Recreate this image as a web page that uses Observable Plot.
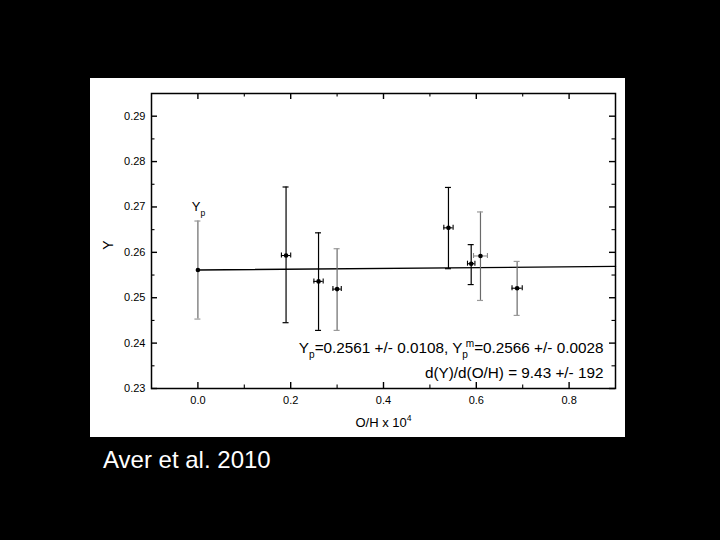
<!DOCTYPE html>
<html>
<head>
<meta charset="utf-8">
<script src="https://cdn.jsdelivr.net/npm/d3@7"></script>
<script src="https://cdn.jsdelivr.net/npm/@observablehq/plot@0.6"></script>
<style>
  html, body { margin: 0; padding: 0; background: #000; }
  #stage { position: relative; width: 720px; height: 540px; background: #000; overflow: hidden; }
  #panel { position: absolute; left: 90px; top: 78px; width: 535px; height: 359px; background: #fff; }
  #credit { position: absolute; left: 103px; top: 446px; color: #fff; font: 24px "Liberation Sans", Arial, sans-serif; }
</style>
</head>
<body>
<div id="stage">
  <div id="panel"></div>
  <div id="credit">Aver et al. 2010</div>
</div>
<script>
// ---- data ----
const ohX   = [0, 0.19, 0.26, 0.30, 0.54, 0.589, 0.609, 0.688];
const yVal  = [0.2561, 0.2593, 0.2536, 0.2519, 0.2654, 0.2575, 0.2592, 0.2521];
const yLow  = [0.2453, 0.2445, 0.2428, 0.2428, 0.2564, 0.2529, 0.2494, 0.2461];
const yHigh = [0.2669, 0.2744, 0.2643, 0.2608, 0.2743, 0.2617, 0.2689, 0.2580];
const xErr  = [0, 0.010, 0.010, 0.009, 0.010, 0.008, 0.015, 0.011];
const yTone = ["grey", "black", "black", "grey", "black", "black", "grey", "grey"];
const xTone = ["black", "black", "black", "black", "black", "black", "grey", "black"];

const fitX = [0, 0.9];
const fitY = [0.2561, 0.2569];

const yMajor = [0.23, 0.24, 0.25, 0.26, 0.27, 0.28, 0.29];
const yMinor = [0.235, 0.245, 0.255, 0.265, 0.275, 0.285];
const xMajor = [0.0, 0.2, 0.4, 0.6, 0.8];
const xMinor = [0.1, 0.3, 0.5, 0.7];

const xTitle = "O/H x 10^{4}";
const yTitle = "Y";
const ypLabel = "Y_{p}";
const fitText1 = "Y_{p}=0.2561 +/- 0.0108, Y_{p}^{m}=0.2566 +/- 0.0028";
const fitText2 = "d(Y)/d(O/H) = 9.43 +/- 192";

// ---- build table ----
const points = ohX.map((x, i) => ({
  x, y: yVal[i], lo: yLow[i], hi: yHigh[i], xe: xErr[i],
  yc: yTone[i] === "grey" ? "#6a6a6a" : "#000",
  capc: yTone[i] === "grey" ? "#9a9a9a" : "#000",
  xc: xTone[i] === "grey" ? "#8a8a8a" : "#000"
}));
const xbars = points.filter(d => d.xe > 0);
const fit = fitX.map((x, i) => ({x, y: fitY[i]}));

const W = 535, H = 359;
const M = {top: 15, right: 10, bottom: 49, left: 61};
const innerW = W - M.left - M.right, innerH = H - M.top - M.bottom;
const capW = 3 / innerW * 1.0;        // ~3px half-width in x units (domain span 1)
const capH = 2.5 / innerH * 0.065;    // ~2.5px half-height in y units
const majorLen = 6, minorLen = 3.5;
const font = "Liberation Sans, Arial, sans-serif";

const chart = Plot.plot({
  width: W, height: H,
  marginTop: M.top, marginRight: M.right, marginBottom: M.bottom, marginLeft: M.left,
  style: {background: "transparent", fontFamily: font, color: "#000"},
  x: {domain: [-0.1, 0.9]},
  y: {domain: [0.23, 0.295]},
  marks: [
    // inward ticks on all four sides
    Plot.tickX(xMajor, {x: d => d, insetTop: innerH - majorLen, stroke: "#000", strokeWidth: 1.4}),
    Plot.tickX(xMinor, {x: d => d, insetTop: innerH - minorLen, stroke: "#000", strokeWidth: 1.1}),
    Plot.tickX(xMajor, {x: d => d, insetBottom: innerH - majorLen, stroke: "#000", strokeWidth: 1.4}),
    Plot.tickX(xMinor, {x: d => d, insetBottom: innerH - minorLen, stroke: "#000", strokeWidth: 1.1}),
    Plot.tickY(yMajor, {y: d => d, insetRight: innerW - majorLen, stroke: "#000", strokeWidth: 1.4}),
    Plot.tickY(yMinor, {y: d => d, insetRight: innerW - minorLen, stroke: "#000", strokeWidth: 1.1}),
    Plot.tickY(yMajor, {y: d => d, insetLeft: innerW - majorLen, stroke: "#000", strokeWidth: 1.4}),
    Plot.tickY(yMinor, {y: d => d, insetLeft: innerW - minorLen, stroke: "#000", strokeWidth: 1.1}),
    Plot.axisX({ticks: xMajor, tickSize: 0, tickPadding: 8, tickFormat: d3.format(".1f"), fontSize: 11, label: null}),
    Plot.axisY({ticks: yMajor, tickSize: 0, tickPadding: 6, tickFormat: d3.format(".2f"), fontSize: 11, label: null}),
    // regression line
    Plot.line(fit, {x: "x", y: "y", stroke: "#000", strokeWidth: 1.4}),
    // vertical error bars + caps
    Plot.ruleX(points, {x: "x", y1: "lo", y2: "hi", stroke: "yc", strokeWidth: 1.2}),
    Plot.ruleY(points, {y: "lo", x1: d => d.x - capW, x2: d => d.x + capW, stroke: "capc", strokeWidth: 1.2}),
    Plot.ruleY(points, {y: "hi", x1: d => d.x - capW, x2: d => d.x + capW, stroke: "capc", strokeWidth: 1.2}),
    // horizontal error bars + caps
    Plot.ruleY(xbars, {y: "y", x1: d => d.x - d.xe, x2: d => d.x + d.xe, stroke: "xc", strokeWidth: 1.1}),
    Plot.ruleX(xbars, {x: d => d.x - d.xe, y1: d => d.y - capH, y2: d => d.y + capH, stroke: "xc", strokeWidth: 1.1}),
    Plot.ruleX(xbars, {x: d => d.x + d.xe, y1: d => d.y - capH, y2: d => d.y + capH, stroke: "xc", strokeWidth: 1.1}),
    // points
    Plot.dot(points, {x: "x", y: "y", r: 2.3, fill: "#000", stroke: "none"}),
    // frame
    Plot.frame({stroke: "#000", strokeWidth: 1.5}),
    // annotations
    Plot.text([ypLabel], {x: -0.013, y: 0.2691, text: d => d, textAnchor: "start", lineAnchor: "bottom", fontSize: 13, fill: "#000"}),
    Plot.text([fitText1], {x: 0.874, y: 0.2379, text: d => d, textAnchor: "end", lineAnchor: "bottom", fontSize: 15.3, fill: "#000"}),
    Plot.text([fitText2], {x: 0.874, y: 0.2323, text: d => d, textAnchor: "end", lineAnchor: "bottom", fontSize: 15.3, fill: "#000"}),
    Plot.text([xTitle], {frameAnchor: "bottom", dy: 38.5, text: d => d, textAnchor: "middle", lineAnchor: "bottom", fontSize: 13, fill: "#000"}),
    Plot.text([yTitle], {frameAnchor: "left", dx: -43, dy: 4, rotate: -90, text: d => d, textAnchor: "middle", fontSize: 14, fill: "#000"})
  ]
});

document.getElementById("panel").appendChild(chart);

// sub/superscript markup -> tspans
const NS = "http://www.w3.org/2000/svg";
chart.querySelectorAll("text").forEach(t => {
  const s = t.textContent;
  if (!/[_^]\{/.test(s)) return;
  while (t.firstChild) t.removeChild(t.firstChild);
  const re = /([_^])\{([^}]*)\}|([^_^]+)/g;
  let m, shift = 0, prevScript = null;
  while ((m = re.exec(s))) {
    const ts = document.createElementNS(NS, "tspan");
    if (m[3]) {
      ts.textContent = m[3];
      ts.setAttribute("dy", String(-shift));
      shift = 0; prevScript = null;
      t.appendChild(ts);
    } else {
      const d = m[1] === "_" ? 5 : -6;
      ts.textContent = m[2];
      ts.setAttribute("font-size", "0.66em");
      ts.setAttribute("dy", String(d - shift));
      t.appendChild(ts);
      if (prevScript) {
        const w = prevScript.getComputedTextLength();
        ts.setAttribute("dx", String(-w * 0.4));
      }
      shift = d; prevScript = ts;
    }
  }
});
</script>
</body>
</html>
